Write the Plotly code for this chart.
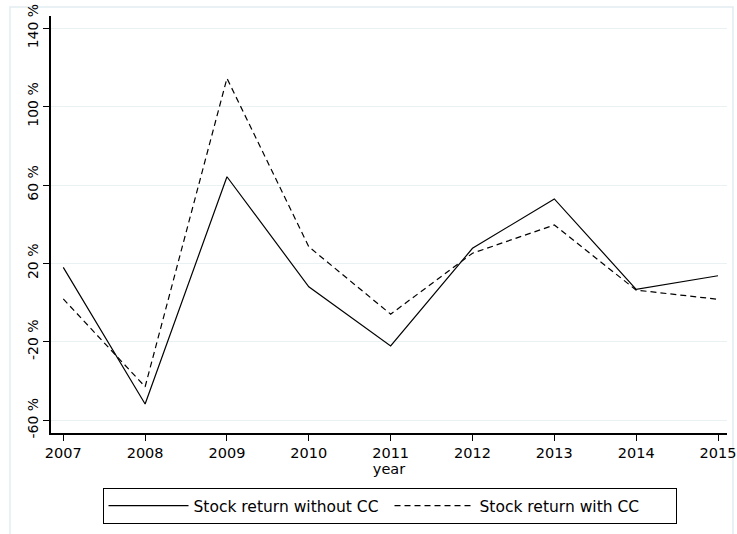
import plotly.graph_objects as go

# Annual stock returns (%), with and without CC
years = [2007, 2008, 2009, 2010, 2011, 2012, 2013, 2014, 2015]
return_without_cc = [18.0, -51.7, 64.2, 8.1, -22.1, 27.7, 52.9, 6.8, 13.7]
return_with_cc = [1.9, -42.9, 114.4, 28.5, -5.9, 25.2, 39.6, 6.4, 1.7]

y_ticks = [-60, -20, 20, 60, 100, 140]
y_tick_labels = [f"{v} %" for v in y_ticks]

series_names = ["Stock return without CC", "Stock return with CC"]

FONT = "DejaVu Sans"
GRID = "#e9f1f3"

fig = go.Figure()
fig.add_trace(go.Scatter(
    x=years, y=return_without_cc, mode="lines", name=series_names[0],
    line=dict(color="black", width=1.2),
))
fig.add_trace(go.Scatter(
    x=years, y=return_with_cc, mode="lines", name=series_names[1],
    line=dict(color="black", width=1.2, dash="6px,4px"),
))

fig.update_layout(
    width=737, height=534,
    margin=dict(l=51, r=10, t=16, b=101, autoexpand=False),
    paper_bgcolor="white", plot_bgcolor="white",
    font=dict(family=FONT, size=14, color="black"),
    showlegend=True,
    legend=dict(
        orientation="h",
        xref="container", yref="container",
        x=0.5285, xanchor="center", y=0.086, yanchor="top",
        bordercolor="black", borderwidth=1, bgcolor="white",
        font=dict(family=FONT, size=15.5, color="black"),
        entrywidth=191, itemwidth=80, tracegroupgap=0,
    ),
    xaxis=dict(
        range=[2006.85, 2015.11], tickvals=years, ticktext=[str(y) for y in years],
        showgrid=False, zeroline=False, automargin=False,
        showline=True, linecolor="black", linewidth=1.5,
        ticks="outside", ticklen=6, tickcolor="black",
        tickfont=dict(family=FONT, size=14.5),
        title=dict(text="year", font=dict(family=FONT, size=14.5), standoff=2),
    ),
    yaxis=dict(
        range=[-66.5, 146.2], tickvals=y_ticks, ticktext=y_tick_labels,
        tickangle=-90, automargin=False,
        showgrid=True, gridcolor=GRID, gridwidth=1, zeroline=False,
        showline=True, linecolor="black", linewidth=1.5,
        ticks="outside", ticklen=6, tickcolor="black",
        tickfont=dict(family=FONT, size=14),
    ),
    shapes=[dict(
        type="rect", xref="paper", yref="paper",
        x0=-0.0607, x1=1.0089, y0=-0.35, y1=1.0216,
        line=dict(color="#e3edf2", width=1.5), layer="below",
    )],
)

fig.write_html("out.html")
